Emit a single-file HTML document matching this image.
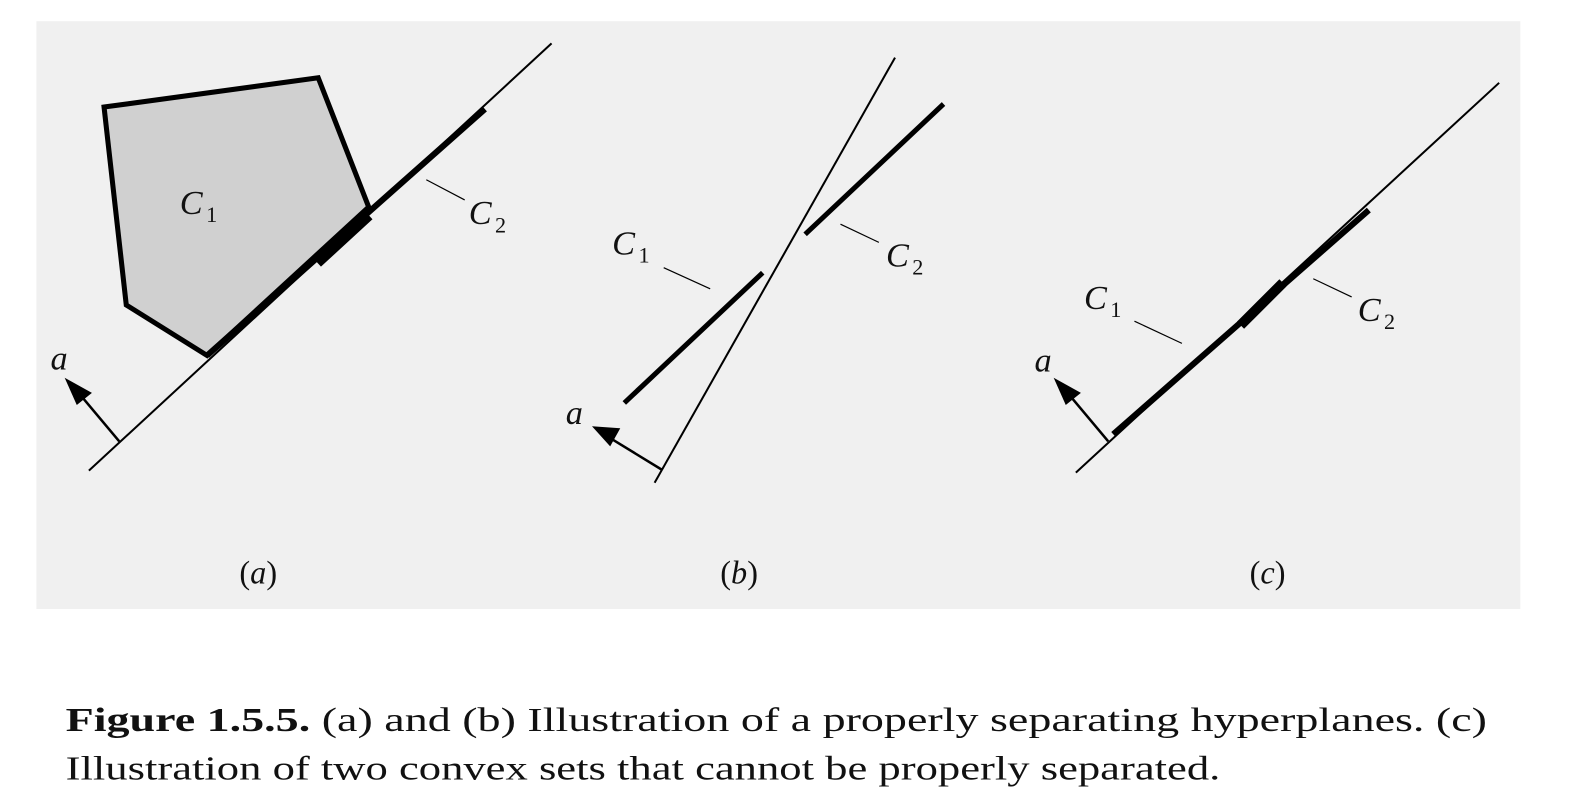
<!DOCTYPE html>
<html><head><meta charset="utf-8"><style>
html,body{margin:0;padding:0;background:#fff;width:1584px;height:812px;overflow:hidden}
svg{display:block}
.m{font-family:"Liberation Serif",serif;font-style:italic;font-size:34px;fill:#111}
.s{font-family:"Liberation Serif",serif;font-size:22px;fill:#111}
.p{font-family:"Liberation Serif",serif;font-size:32px;fill:#111}
.c{font-family:"Liberation Serif",serif;font-size:34px;fill:#111}
</style></head><body>
<svg width="1584" height="812" viewBox="0 0 1568 804" preserveAspectRatio="none">
<rect x="36" y="21" width="1469" height="582" fill="#f0f0f0"/>
<!-- (a) -->
<polygon points="103,106 315,77 365,205 205,352 125,302" fill="#d0d0d0" stroke="#000" stroke-width="5" stroke-linejoin="miter"/>
<line x1="88" y1="466" x2="546" y2="43" stroke="#000" stroke-width="2"/>
<line x1="205" y1="352" x2="480" y2="108" stroke="#000" stroke-width="6"/>
<line x1="314" y1="260" x2="365" y2="213" stroke="#000" stroke-width="11"/>
<line x1="118" y1="437" x2="82" y2="394" stroke="#000" stroke-width="2.5"/>
<polygon points="64,374 91,389 76,401" fill="#000"/>
<text class="m" x="50" y="366">a</text>
<text class="m" x="178" y="212">C</text><text class="s" x="204" y="220">1</text>
<line x1="422" y1="178" x2="460" y2="198" stroke="#000" stroke-width="1.2"/>
<text class="m" x="464" y="222">C</text><text class="s" x="490" y="230">2</text>
<text class="p" x="237" y="578">(<tspan font-style="italic">a</tspan>)</text>
<!-- (b) -->
<line x1="648" y1="478" x2="886" y2="57" stroke="#000" stroke-width="2"/>
<line x1="618" y1="399" x2="755" y2="270" stroke="#000" stroke-width="5"/>
<line x1="797" y1="232" x2="934" y2="103" stroke="#000" stroke-width="5"/>
<line x1="655" y1="465" x2="606" y2="435" stroke="#000" stroke-width="2.5"/>
<polygon points="586,422 614,424 604,442" fill="#000"/>
<text class="m" x="560" y="420">a</text>
<text class="m" x="606" y="252">C</text><text class="s" x="632" y="260">1</text>
<line x1="657" y1="265" x2="703" y2="286" stroke="#000" stroke-width="1.2"/>
<line x1="832" y1="222" x2="870" y2="240" stroke="#000" stroke-width="1.2"/>
<text class="m" x="877" y="264">C</text><text class="s" x="903" y="272">2</text>
<text class="p" x="713" y="578">(<tspan font-style="italic">b</tspan>)</text>
<!-- (c) -->
<line x1="1065" y1="468" x2="1484" y2="82" stroke="#000" stroke-width="2"/>
<line x1="1102" y1="430" x2="1355" y2="208" stroke="#000" stroke-width="6"/>
<line x1="1228" y1="322" x2="1270" y2="280" stroke="#000" stroke-width="10"/>
<line x1="1097" y1="437" x2="1061" y2="394" stroke="#000" stroke-width="2.5"/>
<polygon points="1043,374 1070,389 1055,401" fill="#000"/>
<text class="m" x="1024" y="368">a</text>
<text class="m" x="1073" y="306">C</text><text class="s" x="1099" y="314">1</text>
<line x1="1123" y1="318" x2="1170" y2="340" stroke="#000" stroke-width="1.2"/>
<line x1="1300" y1="276" x2="1338" y2="294" stroke="#000" stroke-width="1.2"/>
<text class="m" x="1344" y="318">C</text><text class="s" x="1370" y="326">2</text>
<text class="p" x="1237" y="578">(<tspan font-style="italic">c</tspan>)</text>
<!-- caption -->
<text class="c" x="65" y="724" textLength="1407" lengthAdjust="spacingAndGlyphs"><tspan font-weight="bold">Figure 1.5.5.</tspan> (a) and (b) Illustration of a properly separating hyperplanes. (c)</text>
<text class="c" x="65" y="772" textLength="1143" lengthAdjust="spacingAndGlyphs">Illustration of two convex sets that cannot be properly separated.</text>
</svg>
</body></html>
